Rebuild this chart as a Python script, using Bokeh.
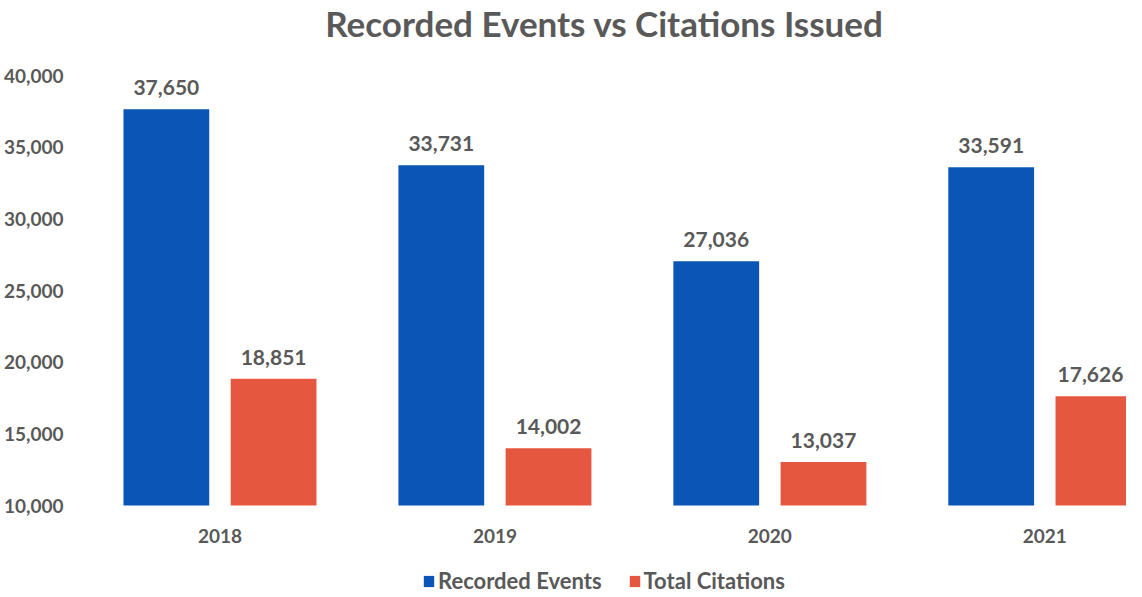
from bokeh.plotting import figure
from bokeh.models import (ColumnDataSource, LabelSet, Label, Legend, LegendItem, FixedTicker,
                          NumeralTickFormatter, Range1d)
from bokeh.core.properties import value
from bokeh.transform import dodge
from bokeh.embed import file_html
from bokeh.resources import INLINE

title = "Recorded Events vs Citations Issued"
years = ["2018", "2019", "2020", "2021"]
recorded = [37650, 33731, 27036, 33591]
citations = [18851, 14002, 13037, 17626]
y_ticks = [10000, 15000, 20000, 25000, 30000, 35000, 40000]

BLUE = "#0B55B7"
RED = "#E5573F"
GRAY = "#595959"
FONT = "Lato"

W, H = 1126, 597
TOP, LEFT = 75, 78          # pixel row of the 40,000 tick, frame left edge
AXIS_PX = 430               # pixel height of the 10,000-40,000 band
span = y_ticks[-1] - y_ticks[0]
px = span / AXIS_PX
y_start = y_ticks[0] - (H - TOP - AXIS_PX) * px
y_end = y_ticks[-1] + TOP * px
cat_px = 276
x_start = -0.5
x_end = x_start + (W - LEFT) / cat_px

src = ColumnDataSource(dict(
    x=list(range(len(years))),
    year=years,
    recorded=recorded,
    citations=citations,
    rec_txt=[f"{v:,}" for v in recorded],
    cit_txt=[f"{v:,}" for v in citations],
    base=[y_ticks[0]] * len(years),
    cit_shift=[0, 0, 0, -8],   # keep the last label inside the frame edge
))

p = figure(width=W, height=H, output_backend="svg", toolbar_location=None,
           x_range=Range1d(x_start, x_end), y_range=Range1d(y_start, y_end),
           min_border_left=LEFT, min_border_right=0, min_border_top=0, min_border_bottom=0,
           outline_line_color=None)

p.add_layout(Label(x=(x_start + x_end) / 2, y=y_end, y_offset=-22, text=title,
                   text_align="center", text_baseline="middle",
                   text_font=FONT, text_font_size="35px", text_font_style="bold",
                   text_color=GRAY))

r1 = p.vbar(x=dodge("x", -0.195, range=p.x_range), top="recorded", bottom="base", width=0.312,
            source=src, fill_color=BLUE, line_color=None)
r2 = p.vbar(x=dodge("x", 0.195, range=p.x_range), top="citations", bottom="base", width=0.312,
            source=src, fill_color=RED, line_color=None)

p.add_layout(LabelSet(x=dodge("x", -0.195, range=p.x_range), y="recorded", text="rec_txt",
                      source=src, y_offset=14, text_align="center", text_baseline="bottom",
                      text_font=value(FONT), text_font_size="21px", text_font_style="bold",
                      text_color=GRAY))
p.add_layout(LabelSet(x=dodge("x", 0.195, range=p.x_range), y="citations", text="cit_txt",
                      source=src, y_offset=14, x_offset="cit_shift", text_align="center",
                      text_baseline="bottom",
                      text_font=value(FONT), text_font_size="21px", text_font_style="bold",
                      text_color=GRAY))

# category (year) labels under the bars
p.add_layout(LabelSet(x="x", y="base", text="year", source=src, y_offset=-30,
                      text_align="center", text_baseline="middle",
                      text_font=value(FONT), text_font_size="19px", text_font_style="bold",
                      text_color=GRAY))

p.xgrid.visible = False
p.ygrid.visible = False
p.xaxis.visible = False

p.yaxis.ticker = FixedTicker(ticks=y_ticks)
p.yaxis.formatter = NumeralTickFormatter(format="0,0")
p.yaxis.axis_line_color = None
p.yaxis.major_tick_line_color = None
p.yaxis.minor_tick_line_color = None
p.yaxis.major_label_text_font = FONT
p.yaxis.major_label_text_font_size = "19px"
p.yaxis.major_label_text_font_style = "bold"
p.yaxis.major_label_text_color = GRAY
p.yaxis.major_label_standoff = 13

legend = Legend(items=[LegendItem(label="Recorded Events", renderers=[r1]),
                       LegendItem(label="Total Citations", renderers=[r2])],
                orientation="horizontal", location=(340, 3),
                label_text_font=FONT, label_text_font_size="22px", label_text_font_style="bold",
                label_text_color=GRAY, glyph_width=13, glyph_height=14, label_standoff=3,
                spacing=26, border_line_color=None, background_fill_alpha=0, margin=0, padding=4)
p.add_layout(legend, "center")

open("out.html", "w").write(file_html(p, INLINE))
